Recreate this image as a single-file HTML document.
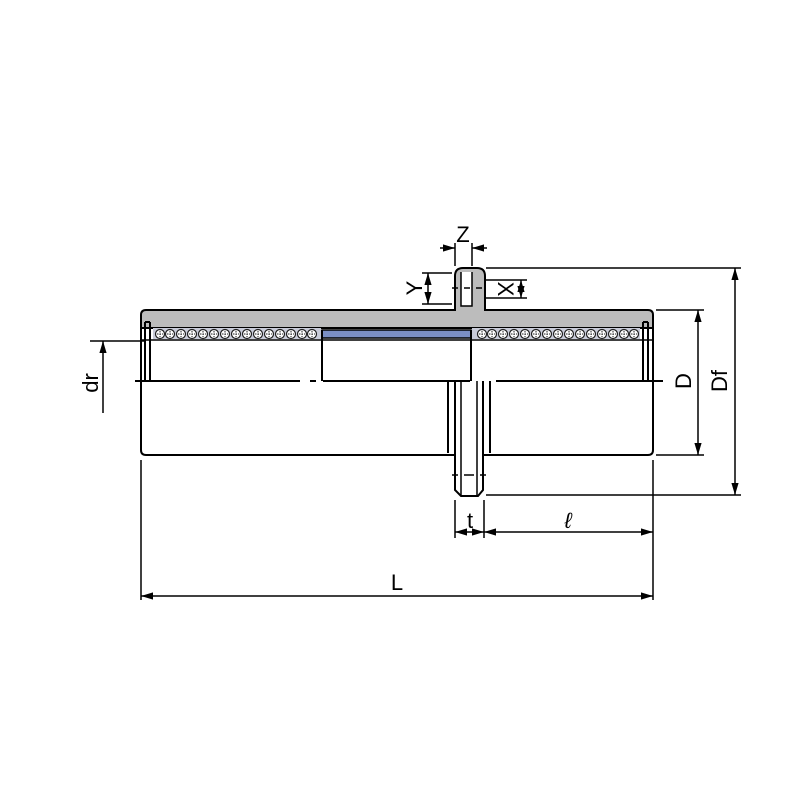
<!DOCTYPE html>
<html><head><meta charset="utf-8"><style>html,body{margin:0;padding:0;background:#fff}svg{display:block}</style></head>
<body>
<svg width="800" height="800" viewBox="0 0 800 800" xmlns="http://www.w3.org/2000/svg" font-family="Liberation Sans, sans-serif">
<defs>
<marker id="a" viewBox="0 0 10 10" refX="10" refY="5" markerWidth="8" markerHeight="8" orient="auto-start-reverse"><path d="M0,2 L10,5 L0,8 Z" fill="#000" stroke="none"/></marker>
<g id="ball"><circle r="4.5" fill="#fff" stroke="#222" stroke-width="1.2"/><path d="M-3,0H3M0,-3V3" stroke="#222" stroke-width="1" stroke-dasharray="1.5 1"/></g>
</defs>
<g stroke="#000" stroke-width="2" fill="none">
<path d="M141,328 V315 Q141,310 146,310 H455 V276 Q455,268 463,268 H477 Q485,268 485,276 V310 H648 Q653,310 653,315 V328 Z" fill="#bcbcbc"/>
<rect x="322" y="330" width="149" height="8" fill="#7b8fc4" stroke-width="1.5"/>
<rect x="153" y="328" width="168" height="11" fill="#c8cbd8" stroke="none"/>
<rect x="472" y="328" width="168" height="11" fill="#c8cbd8" stroke="none"/>
<path d="M141,328 V450 Q141,455 146,455 H448"/>
<path d="M653,328 V450 Q653,455 648,455 H490"/>
<line x1="141" y1="340" x2="653" y2="340" stroke-width="1.5"/>
<path d="M145,322 V381 M150,322 V381 M145,322 H150"/>
<path d="M648,322 V381 M643,322 V381 M643,322 H648"/>
<line x1="322" y1="330" x2="322" y2="381"/>
<line x1="471" y1="330" x2="471" y2="381"/>
<path d="M135,381 H300 M310,381 H316 M323,381 H470 M496,381 H663"/>
<path d="M448,381 V453 M490,381 V453 M448,455 H455 M483,455 H490"/>
<path d="M455,381 V490 L461,496 H478 L483,490 V381"/>
<path d="M461,381 V495 M477,381 V495" stroke-width="1.5"/>
<path d="M452,475 H458 M464,475 H474 M480,475 H486" stroke-width="1.5"/>
<path d="M461,272 V306 H472 V272" stroke-width="1.5" fill="#fff"/>
<path d="M452,288 H458 M464,288 H470 M476,288 H482" stroke-width="1.5"/>
</g>
<g stroke="#000" stroke-width="1.5" fill="none">
<path d="M455,266 V243 M472,266 V243"/>
<line x1="440" y1="248" x2="455" y2="248" marker-end="url(#a)"/>
<line x1="487" y1="248" x2="472" y2="248" marker-end="url(#a)"/>
<path d="M422,273 H452 M422,304 H452"/>
<line x1="428" y1="288" x2="428" y2="273" marker-end="url(#a)"/>
<line x1="428" y1="288" x2="428" y2="304" marker-end="url(#a)"/>
<path d="M485,280 H527 M485,298 H527"/>
<line x1="521" y1="289" x2="521" y2="280" marker-end="url(#a)"/>
<line x1="521" y1="289" x2="521" y2="298" marker-end="url(#a)"/>
<path d="M486,268 H741 M486,495 H741"/>
<line x1="735" y1="380" x2="735" y2="268" marker-end="url(#a)"/>
<line x1="735" y1="380" x2="735" y2="495" marker-end="url(#a)"/>
<path d="M656,310 H704 M656,455 H704"/>
<line x1="698" y1="380" x2="698" y2="310" marker-end="url(#a)"/>
<line x1="698" y1="380" x2="698" y2="455" marker-end="url(#a)"/>
<path d="M90,341 H145"/>
<line x1="103" y1="413" x2="103" y2="341" marker-end="url(#a)"/>
<path d="M455,500 V538 M484,500 V538 M653,460 V600 M141,460 V600"/>
<line x1="470" y1="532" x2="455" y2="532" marker-end="url(#a)"/>
<line x1="470" y1="532" x2="484" y2="532" marker-end="url(#a)"/>
<line x1="560" y1="532" x2="484" y2="532" marker-end="url(#a)"/>
<line x1="560" y1="532" x2="653" y2="532" marker-end="url(#a)"/>
<line x1="400" y1="596" x2="141" y2="596" marker-end="url(#a)"/>
<line x1="400" y1="596" x2="653" y2="596" marker-end="url(#a)"/>
</g>
<g font-size="22" fill="#000" text-anchor="middle">
<text x="463" y="242">Z</text>
<text x="470" y="528">t</text>
<text x="568" y="528" font-style="italic">ℓ</text>
<text x="397" y="590">L</text>
<text transform="translate(414,288) rotate(-90)" y="8">Y</text>
<text transform="translate(506,289) rotate(90)" y="8">X</text>
<text transform="translate(683,381) rotate(-90)" y="8">D</text>
<text transform="translate(719,381) rotate(-90)" y="8">Df</text>
<text transform="translate(90,383) rotate(-90)" y="8">dr</text>
</g>
<g>
<use href="#ball" x="160" y="334"/><use href="#ball" x="170" y="334"/><use href="#ball" x="181" y="334"/><use href="#ball" x="192" y="334"/><use href="#ball" x="203" y="334"/><use href="#ball" x="214" y="334"/><use href="#ball" x="225" y="334"/><use href="#ball" x="236" y="334"/><use href="#ball" x="247" y="334"/><use href="#ball" x="258" y="334"/><use href="#ball" x="269" y="334"/><use href="#ball" x="280" y="334"/><use href="#ball" x="291" y="334"/><use href="#ball" x="302" y="334"/><use href="#ball" x="312" y="334"/>
<use href="#ball" x="482" y="334"/><use href="#ball" x="492" y="334"/><use href="#ball" x="503" y="334"/><use href="#ball" x="514" y="334"/><use href="#ball" x="525" y="334"/><use href="#ball" x="536" y="334"/><use href="#ball" x="547" y="334"/><use href="#ball" x="558" y="334"/><use href="#ball" x="569" y="334"/><use href="#ball" x="580" y="334"/><use href="#ball" x="591" y="334"/><use href="#ball" x="602" y="334"/><use href="#ball" x="613" y="334"/><use href="#ball" x="624" y="334"/><use href="#ball" x="634" y="334"/>
</g>
</svg>
</body></html>
